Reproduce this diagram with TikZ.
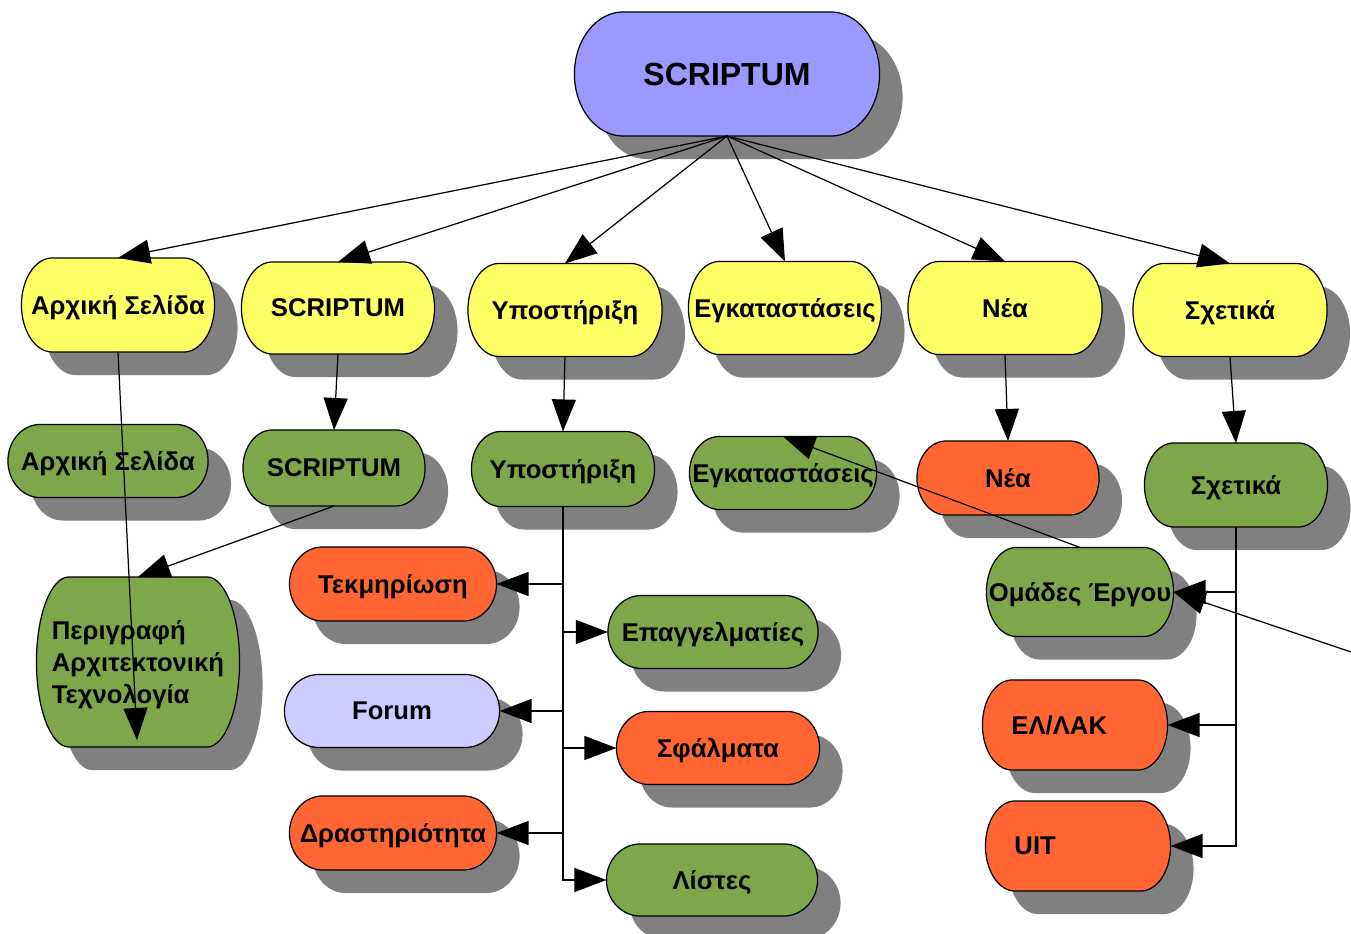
\documentclass[tikz,border=0pt]{standalone}
\usepackage{fontspec}
\setmainfont{Liberation Sans}
\usepackage{xcolor}
\usepackage{tikz}
\usetikzlibrary{arrows.meta, shadows, positioning}

\definecolor{topblue}{HTML}{9999FF}
\definecolor{lemon}{HTML}{FFFF66}
\definecolor{leaf}{HTML}{7EA64A}
\definecolor{tangerine}{HTML}{FF6633}
\definecolor{lilac}{HTML}{CCCCFF}
\definecolor{shade}{HTML}{808080}

% flowchart terminator: straight top and bottom, half-ellipse ends
\makeatletter
\pgfdeclareshape{terminal}{
  \inheritsavedanchors[from=rectangle]
  \inheritanchorborder[from=rectangle]
  \inheritanchor[from=rectangle]{center}
  \inheritanchor[from=rectangle]{north}
  \inheritanchor[from=rectangle]{south}
  \inheritanchor[from=rectangle]{east}
  \inheritanchor[from=rectangle]{west}
  \inheritanchor[from=rectangle]{north east}
  \inheritanchor[from=rectangle]{north west}
  \inheritanchor[from=rectangle]{south east}
  \inheritanchor[from=rectangle]{south west}
  \inheritanchor[from=rectangle]{text}
  \inheritanchor[from=rectangle]{base}
  \inheritanchor[from=rectangle]{mid}
  \backgroundpath{
    \southwest \pgf@xa=\pgf@x \pgf@ya=\pgf@y
    \northeast \pgf@xb=\pgf@x \pgf@yb=\pgf@y
    \pgf@xc=\pgf@xb \advance\pgf@xc by -\pgf@xa
    \pgf@xc=0.16\pgf@xc
    \pgf@yc=\pgf@yb \advance\pgf@yc by -\pgf@ya
    \pgf@yc=0.5\pgf@yc
    \edef\termxl{\the\dimexpr\pgf@xa+\pgf@xc\relax}
    \edef\termxr{\the\dimexpr\pgf@xb-\pgf@xc\relax}
    \edef\termyb{\the\pgf@ya}
    \edef\termyt{\the\pgf@yb}
    \edef\termarcs{%
      \noexpand\pgfpathmoveto{\noexpand\pgfpoint{\termxl}{\termyt}}%
      \noexpand\pgfpatharc{90}{270}{\the\pgf@xc\space and \the\pgf@yc}%
      \noexpand\pgfpathlineto{\noexpand\pgfpoint{\termxr}{\termyb}}%
      \noexpand\pgfpatharc{-90}{90}{\the\pgf@xc\space and \the\pgf@yc}%
      \noexpand\pgfpathclose}
    \termarcs
  }
}
\makeatother

\begin{document}
\begin{tikzpicture}[
        x=0.01cm, y=-0.01cm,
        term/.style={shape=terminal, draw, line width=0.35pt, inner sep=0pt, outer sep=0pt,
            minimum width=1.9cm, minimum height=0.74cm, text depth=0pt,
            font=\bfseries\fontsize{7.3}{8.7}\selectfont,
            general shadow={shadow xshift=0.23cm, shadow yshift=-0.23cm, fill=shade}},
        line/.style={draw, line width=0.35pt, -{Triangle[length=0.32cm, width=0.24cm]}}
    ]
        \useasboundingbox (0,0) rectangle (1351,934);

        \node [term, fill=topblue, minimum width=3.05cm, minimum height=1.24cm,
            font=\bfseries\fontsize{9.1}{11}\selectfont] (top) at (727,74) {SCRIPTUM};

        % first row
        \node [term, fill=lemon, minimum width=1.93cm, minimum height=0.94cm] (homey) at (118,305) {Αρχική Σελίδα};
        \node [term, fill=lemon, minimum width=1.93cm, minimum height=0.92cm] (scriptumy) at (338,308) {SCRIPTUM};
        \node [term, fill=lemon, minimum width=1.94cm, minimum height=0.93cm] (supporty) at (565,310) {Υποστήριξη};
        \node [term, fill=lemon, minimum width=1.93cm, minimum height=0.93cm] (instally) at (785,308) {Εγκαταστάσεις};
        \node [term, fill=lemon, minimum width=1.94cm, minimum height=0.93cm] (newsy) at (1005,308) {Νέα};
        \node [term, fill=lemon, minimum width=1.94cm, minimum height=0.93cm] (abouty) at (1230,310) {Σχετικά};

        % second row
        \node [term, fill=leaf, minimum width=2.0cm, minimum height=0.73cm] (homeg) at (108,461) {Αρχική Σελίδα};
        \node [term, fill=leaf, minimum width=1.82cm, minimum height=0.76cm] (scriptumg) at (334,468) {SCRIPTUM};
        \node [term, fill=leaf, minimum width=1.83cm, minimum height=0.75cm] (supportg) at (563,469) {Υποστήριξη};
        \node [term, fill=leaf, minimum width=1.87cm, minimum height=0.73cm] (installg) at (783,473) {Εγκαταστάσεις};
        \node [term, fill=tangerine, minimum width=1.82cm, minimum height=0.74cm] (newso) at (1008,478) {Νέα};
        \node [term, fill=leaf, minimum width=1.83cm, minimum height=0.84cm] (aboutg) at (1236,485) {Σχετικά};

        \node [term, fill=leaf, minimum width=2.03cm, minimum height=1.7cm, align=left,
            font=\bfseries\fontsize{7.3}{9.1}\selectfont] (descr) at (138,662)
            {Περιγραφή\\Αρχιτεκτονική\\Τεχνολογία};

        % support subtree
        \node [term, fill=tangerine, minimum width=2.07cm, minimum height=0.74cm] (docs) at (393,584) {Τεκμηρίωση};
        \node [term, fill=leaf, minimum width=2.1cm, minimum height=0.73cm] (pros) at (713,632) {Επαγγελματίες};
        \node [term, fill=lilac, minimum width=2.15cm, minimum height=0.73cm] (forum) at (392,711) {Forum};
        \node [term, fill=tangerine, minimum width=2.03cm, minimum height=0.73cm] (bugs) at (718,748) {Σφάλματα};
        \node [term, fill=tangerine, minimum width=2.07cm, minimum height=0.74cm] (activity) at (393,833) {Δραστηριότητα};
        \node [term, fill=leaf, minimum width=2.11cm, minimum height=0.72cm] (lists) at (712,880) {Λίστες};

        % about subtree
        \node [term, fill=leaf, minimum width=1.87cm, minimum height=0.89cm] (teams) at (1080,592) {Ομάδες Έργου};
        \node [term, fill=tangerine, minimum width=1.85cm, minimum height=0.9cm,
            text width=1.27cm, align=left] (foss) at (1075,725) {ΕΛ/ΛΑΚ};
        \node [term, fill=tangerine, minimum width=1.85cm, minimum height=0.9cm,
            text width=1.27cm, align=left] (uit) at (1078,846) {UIT};

        \coordinate (descrend) at (137,740);
        \coordinate (offpage) at (1351,652);

        \path [line] (top.south) -- (homey.north);
        \path [line] (top.south) -- (scriptumy.north);
        \path [line] (top.south) -- (supporty.north);
        \path [line] (top.south) -- (instally.north);
        \path [line] (top.south) -- (newsy.north);
        \path [line] (top.south) -- (abouty.north);

        \path [line] (homey.south) -- (descrend);
        \path [line] (scriptumy.south) -- (scriptumg.north);
        \path [line] (supporty.south) -- (supportg.north);
        \path [line] (newsy.south) -- (newso.north);
        \path [line] (abouty.south) -- (aboutg.north);
        \path [line] (scriptumg.south) -- (descr.north);

        \path [line] (supportg.south) |- (docs.east);
        \path [line] (supportg.south) |- (pros.west);
        \path [line] (supportg.south) |- (forum.east);
        \path [line] (supportg.south) |- (bugs.west);
        \path [line] (supportg.south) |- (activity.east);
        \path [line] (supportg.south) |- (lists.west);

        \path [line] (aboutg.south) |- (teams.east);
        \path [line] (aboutg.south) |- (foss.east);
        \path [line] (aboutg.south) |- (uit.east);
        \path [line] (teams.north) -- (installg.north);
        \path [line] (offpage) -- (teams.east);
    \end{tikzpicture}
\end{document}
